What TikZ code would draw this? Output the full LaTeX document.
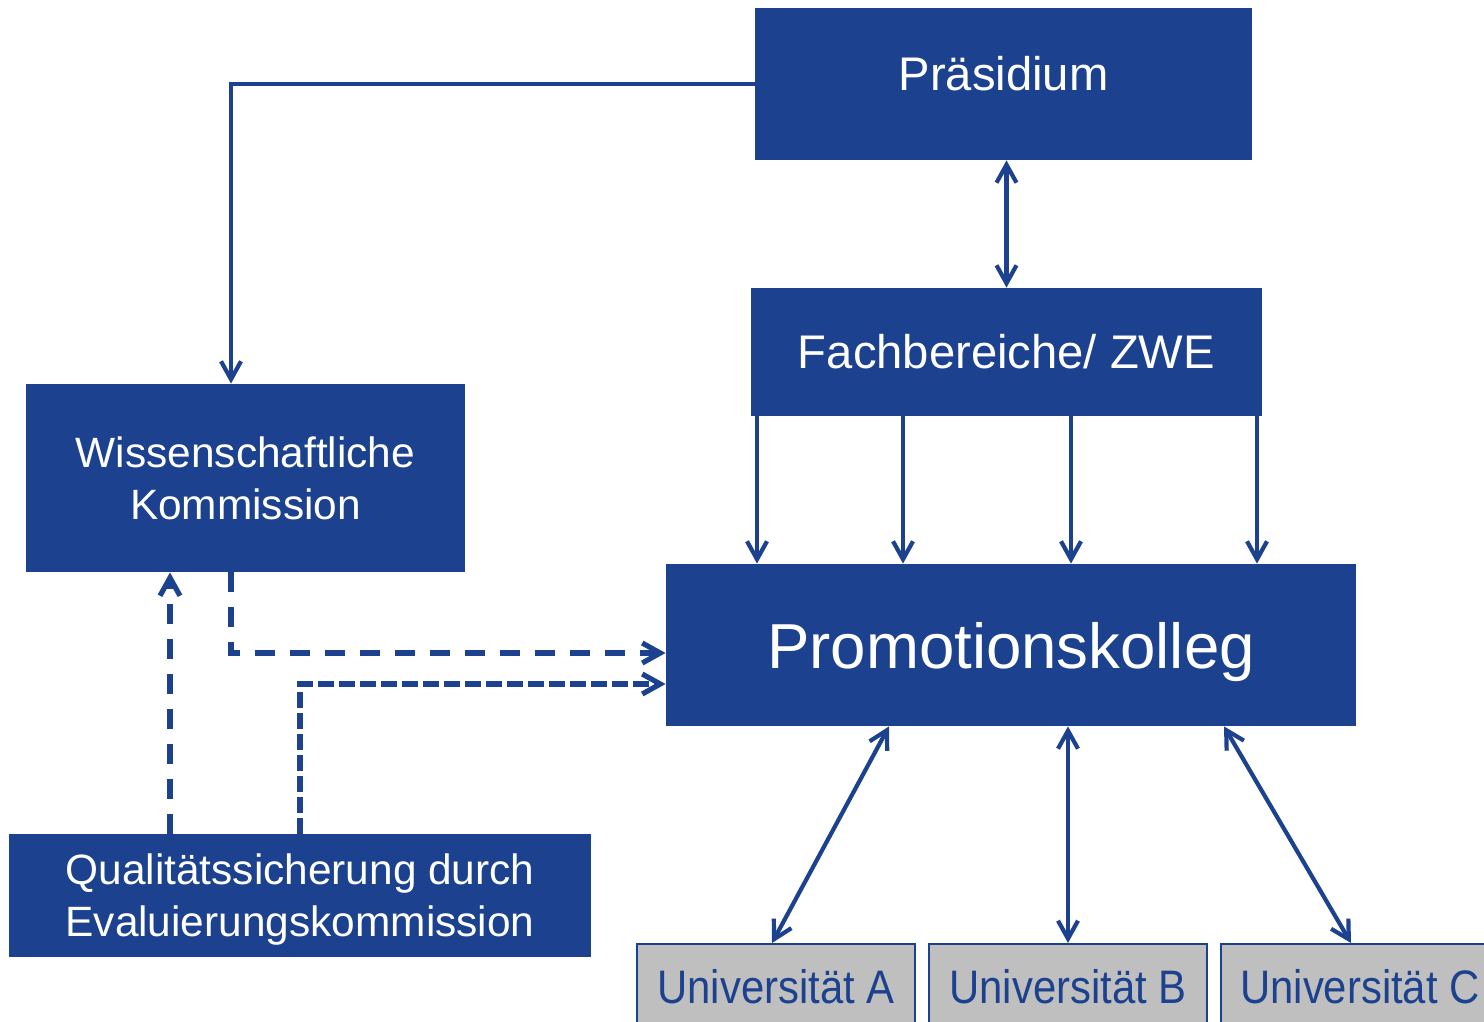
\documentclass[tikz,border=0pt]{standalone}
\usepackage{fontspec}
\setmainfont{Liberation Sans}
\newfontfamily\narrowsans[FakeStretch=0.89]{Liberation Sans}
\usetikzlibrary{arrows.meta, calc}
\definecolor{kollegblue}{RGB}{28,65,142}
\definecolor{unigray}{RGB}{191,191,191}

\begin{document}
\begin{tikzpicture}[x=0.5pt, y=-0.5pt,
        >={Straight Barb[length=9pt,width=10pt]},
        box/.style={fill=kollegblue, text=white, inner sep=0pt, align=center},
        unibox/.style={fill=unigray, draw=kollegblue, line width=1pt, text=kollegblue,
            inner sep=0pt, minimum width=139pt, minimum height=43pt,
            font=\narrowsans\fontsize{23.5}{28}\selectfont},
        link/.style={->, kollegblue, line width=2.1pt},
        dashlink/.style={->, kollegblue, line width=2.6pt, dash pattern=on 10pt off 7.5pt},
        densedash/.style={->, kollegblue, line width=2.6pt, dash pattern=on 8pt off 2.5pt}]
        \useasboundingbox (0,0) rectangle (1484,1022);
        \clip (0,0) rectangle (1484,1022);

        \node[box, minimum width=248.5pt, minimum height=76pt, text height=17pt, text depth=10pt,
            font=\fontsize{23.6}{28}\selectfont] (praes) at (1003.5,84) {Präsidium};
        \node[box, minimum width=255.5pt, minimum height=64pt,
            font=\fontsize{23.6}{28}\selectfont] (fach) at (1006.5,352) {Fachbereiche/ ZWE};
        \node[box, minimum width=219.5pt, minimum height=94pt,
            font=\fontsize{21.2}{26}\selectfont] (wiss) at (245.5,478) {Wissenschaftliche\\Kommission};
        \node[box, minimum width=345pt, minimum height=81pt, text height=23pt, text depth=0pt,
            font=\fontsize{31.8}{38}\selectfont] (prom) at (1011,645) {Promotionskolleg};
        \node[box, minimum width=291pt, minimum height=61.5pt, text depth=0pt,
            font=\fontsize{21.2}{26}\selectfont] (qual) at (300,895.5) {Qualitätssicherung durch\\Evaluierungskommission};
        \node[unibox] (uniA) at (776,987) {Universität A};
        \node[unibox] (uniB) at (1068,987) {Universität B};
        \node[unibox] (uniC) at (1360,987) {Universität C};

        \coordinate (wisstop) at ($(wiss.north)+(-14.5,0)$);
        \draw[link] (praes.west) -| (wisstop);
        \draw[link, <->] (fach.north |- praes.south) -- (fach.north);
        \foreach \xpos in {757,903,1071,1257}
            \draw[link] (\xpos,0 |- fach.south) -- (\xpos,0 |- prom.north);

        \draw[dashlink] (wisstop |- wiss.south) |- ($(prom.west)+(0,8)$);
        \draw[densedash] (qual.north) |- ($(prom.west)+(0,39)$);
        \draw[dashlink] ($(qual.north)+(-130,0)$) -- ($(wiss.south)+(-75.5,0)$);

        \draw[link, <->] (889,0 |- prom.south) -- (772,0 |- uniA.north);
        \draw[link, <->] (uniB.north |- prom.south) -- (uniB.north);
        \draw[link, <->] (1224,0 |- prom.south) -- (1351,0 |- uniC.north);
    \end{tikzpicture}
\end{document}
